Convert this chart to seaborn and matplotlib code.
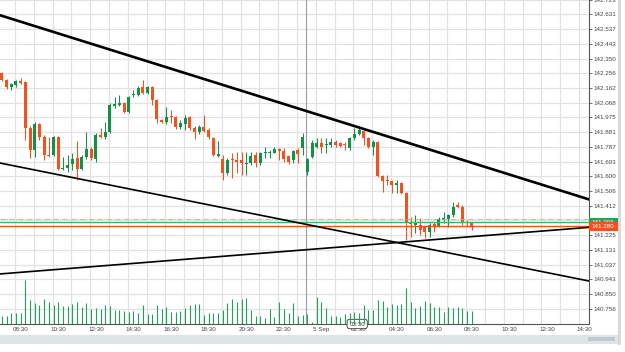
import matplotlib.pyplot as plt
import matplotlib.patches as mpatches
import matplotlib.transforms as mtransforms
import numpy as np
import pandas as pd
import seaborn as sns

# 15 minute candles, 07:30 (4 Sep) .. 08:30 (5 Sep)
opens = [142.257, 142.212, 142.168, 142.181, 142.206, 142.200, 141.907, 141.767, 141.932, 141.849,
         141.735, 141.735, 141.849, 141.646, 141.652, 141.677, 141.716, 141.646, 141.722, 141.773,
         141.709, 141.862, 141.849, 141.881, 142.047, 142.053, 142.066, 142.009, 142.117, 142.117,
         142.168, 142.130, 142.168, 142.085, 141.958, 141.945, 141.983, 141.977, 141.913, 141.932,
         141.977, 141.907, 141.881, 141.913, 141.894, 141.843, 141.728, 141.709, 141.620, 141.709,
         141.703, 141.703, 141.677, 141.684, 141.735, 141.684, 141.747, 141.747, 141.747, 141.773,
         141.760, 141.728, 141.703, 141.767, 141.779, 141.626, 141.722, 141.786, 141.811, 141.798,
         141.798, 141.817, 141.811, 141.805, 141.779, 141.843, 141.868, 141.888, 141.843, 141.786,
         141.817, 141.601, 141.575, 141.569, 141.544, 141.556, 141.493, 141.308, 141.289, 141.289,
         141.276, 141.244, 141.295, 141.282, 141.321, 141.327, 141.352, 141.416, 141.403, 141.308,
         141.302]
closes = [142.212, 142.168, 142.187, 142.206, 142.193, 141.907, 141.767, 141.932, 141.849, 141.735,
          141.728, 141.849, 141.646, 141.652, 141.671, 141.709, 141.646, 141.722, 141.773, 141.716,
          141.862, 141.849, 141.881, 142.053, 142.060, 142.066, 142.009, 142.104, 142.123, 142.161,
          142.130, 142.168, 142.085, 141.964, 141.945, 141.977, 141.977, 141.913, 141.939, 141.970,
          141.907, 141.881, 141.913, 141.888, 141.849, 141.735, 141.741, 141.620, 141.703, 141.703,
          141.690, 141.684, 141.684, 141.728, 141.684, 141.747, 141.754, 141.754, 141.773, 141.760,
          141.709, 141.690, 141.760, 141.741, 141.849, 141.709, 141.811, 141.811, 141.786, 141.805,
          141.817, 141.798, 141.792, 141.798, 141.843, 141.868, 141.894, 141.843, 141.786, 141.817,
          141.601, 141.569, 141.569, 141.544, 141.556, 141.493, 141.308, 141.295, 141.308, 141.257,
          141.244, 141.289, 141.282, 141.327, 141.333, 141.352, 141.403, 141.403, 141.308, 141.302,
          141.280]
highs = [142.263, 142.219, 142.193, 142.212, 142.225, 142.206, 141.919, 141.945, 141.939, 141.862,
         141.849, 141.856, 141.856, 141.722, 141.735, 141.747, 141.824, 141.735, 141.881, 141.786,
         141.875, 141.907, 141.945, 142.066, 142.104, 142.117, 142.072, 142.110, 142.149, 142.174,
         142.212, 142.174, 142.174, 142.091, 141.964, 142.040, 142.021, 141.983, 141.958, 141.989,
         141.983, 141.919, 141.926, 141.989, 141.907, 141.849, 141.824, 141.735, 141.716, 141.747,
         141.754, 141.754, 141.754, 141.754, 141.754, 141.754, 141.786, 141.767, 141.786, 141.779,
         141.779, 141.735, 141.767, 141.779, 141.875, 141.716, 141.830, 141.843, 141.843, 141.843,
         141.843, 141.830, 141.817, 141.817, 141.849, 141.907, 141.913, 141.894, 141.849, 141.830,
         141.824, 141.607, 141.607, 141.575, 141.575, 141.563, 141.499, 141.340, 141.352, 141.333,
         141.289, 141.302, 141.308, 141.340, 141.372, 141.359, 141.435, 141.435, 141.416, 141.321,
         141.308]
lows = [142.206, 142.155, 142.149, 142.168, 142.187, 141.830, 141.716, 141.722, 141.830, 141.703,
        141.722, 141.728, 141.639, 141.639, 141.626, 141.639, 141.575, 141.639, 141.709, 141.703,
        141.690, 141.843, 141.837, 141.875, 142.034, 142.047, 142.002, 142.002, 142.104, 142.110,
        142.123, 142.123, 142.053, 141.939, 141.939, 141.932, 141.939, 141.900, 141.900, 141.894,
        141.894, 141.837, 141.868, 141.881, 141.837, 141.728, 141.722, 141.575, 141.607, 141.588,
        141.620, 141.607, 141.607, 141.671, 141.658, 141.671, 141.716, 141.716, 141.747, 141.703,
        141.690, 141.677, 141.684, 141.684, 141.735, 141.607, 141.716, 141.779, 141.747, 141.747,
        141.786, 141.786, 141.786, 141.767, 141.767, 141.830, 141.862, 141.798, 141.779, 141.735,
        141.595, 141.499, 141.544, 141.493, 141.493, 141.486, 141.193, 141.212, 141.238, 141.225,
        141.206, 141.212, 141.244, 141.276, 141.302, 141.276, 141.340, 141.397, 141.289, 141.276,
        141.257]
volumes = [230, 230, 320, 320, 320, 1320, 730, 620, 580, 750,
           670, 580, 650, 550, 550, 600, 670, 520, 630, 450,
           480, 450, 570, 550, 420, 420, 380, 350, 400, 320,
           580, 300, 300, 580, 450, 520, 370, 370, 380, 490,
           560, 590, 590, 270, 320, 320, 340, 430, 640, 740,
           650, 750, 780, 430, 230, 230, 180, 450, 200, 670,
           450, 320, 630, 230, 270, 300, 70, 820, 670, 470,
           230, 230, 200, 300, 330, 370, 330, 580, 430, 430,
           730, 700, 500, 600, 580, 600, 1070, 670, 480, 550,
           680, 630, 520, 520, 370, 520, 480, 500, 480, 400,
           380]

# hand drawn trend lines (hours from 08:30, price)
upper_t = [-1.1, 30.23]
upper_p = [142.626, 141.452]
lower_t = [-1.1, 30.23]
lower_p = [141.684, 140.932]
rising_t = [-1.1, 30.23]
rising_p = [140.977, 141.274]

ask_price = 141.325
bid_price = 141.306
last_price = 141.280
cursor_hour = 15.18
cursor_label = '03:30'

x_labels = ['08:30', '10:30', '12:30', '14:30', '16:30', '18:30', '20:30', '22:30',
            '5 Sep', '02:30', '04:30', '06:30', '08:30', '10:30', '12:30', '14:30']
y_labels = ['142.723', '142.631', '142.537', '142.443', '142.350', '142.256', '142.162',
            '142.068', '141.975', '141.881', '141.787', '141.693', '141.600', '141.506',
            '141.412', '141.319', '141.225', '141.131', '141.037', '140.943', '140.850', '140.756']

times = pd.date_range('2024-09-04 07:30', periods=len(opens), freq='15min')
df = pd.DataFrame({'time': times, 'open': opens, 'close': closes,
                   'high': highs, 'low': lows, 'volume': volumes})
df['h'] = (df['time'] - pd.Timestamp('2024-09-04 08:30')) / pd.Timedelta(hours=1)

green = '#15904a'
red = '#f4511e'

sns.set_style('whitegrid')
plt.rcParams['font.family'] = ['Liberation Sans', 'DejaVu Sans']

fig = plt.figure(figsize=(6.25, 3.52), dpi=100)
ax = fig.add_axes([0, 28 / 352, 589 / 625, 324 / 352])
ax.set_xlim(-1.1, 30.23)
ax.set_ylim(140.658, 142.722)

# volume on its own scale at the bottom
ax2 = ax.twinx()
ax2.set_ylim(0, 9720)
ax2.vlines(df['h'], 0, df['volume'], color='#22a05e', lw=0.8)
ax2.axis('off')

# candles
colors = np.where(df['close'] >= df['open'], green, red)
ax.vlines(df['h'], df['low'], df['high'], color=colors, lw=0.75, zorder=3)
ax.bar(df['h'], (df['close'] - df['open']).abs(), bottom=np.minimum(df['open'], df['close']),
       width=0.16, color=colors, lw=0, zorder=4)

# trend lines
sns.lineplot(x=upper_t, y=upper_p, ax=ax, color='black', lw=1.9, zorder=6)
sns.lineplot(x=lower_t, y=lower_p, ax=ax, color='black', lw=1.2, zorder=6)
sns.lineplot(x=rising_t, y=rising_p, ax=ax, color='black', lw=1.2, zorder=6)

# price lines
ax.axhline(ask_price, color='#f29583', lw=0.6, ls='-.', zorder=5)
ax.axhline(bid_price, color='#3cb371', lw=1.0, zorder=5)
ax.axhline(last_price, color=red, lw=1.0, zorder=5)
ax.axvline(cursor_hour, color='#9c9c9c', lw=0.8, zorder=2.6)

# axes styling
ax.set_xticks(np.arange(0, 31, 2))
ax.set_xticklabels(x_labels)
ax.set_xticks(np.arange(-0.3, 30.3, 1), minor=True)
ax.grid(False)
ax.grid(which='minor', axis='x', color='#e2e2e2', lw=0.9)
ax.yaxis.tick_right()
ax.set_yticks([float(v) for v in y_labels])
ax.set_yticklabels(y_labels)
ax.grid(which='major', axis='y', color='#e2e2e2', lw=0.9)
ax.tick_params(axis='x', which='both', length=0, labelsize=4.5, labelcolor='#444444', pad=2)
ax.tick_params(axis='y', length=2, width=0.6, color='#555555', labelsize=4.5,
               labelcolor='#444444', pad=1.5)
for side in ['left', 'top']:
    ax.spines[side].set_visible(False)
for side in ['right', 'bottom']:
    ax.spines[side].set_visible(True)
    ax.spines[side].set_color('#555555')
    ax.spines[side].set_linewidth(0.8)

# price boxes on the right scale (last price box sits on top of the bid box)
trans = mtransforms.blended_transform_factory(ax.transAxes, ax.transData)
half = 0.0265
ax.add_patch(mpatches.Rectangle((1.0, bid_price - half), 30 / 589, 2 * half, transform=trans,
                                fc='#2e9e57', ec='none', clip_on=False, zorder=10))
bid_txt = ax.text(1.004, bid_price, f'{bid_price:.3f}', transform=trans, fontsize=4.5,
                  color='white', va='center', ha='left', zorder=11)
bid_clip = mpatches.Rectangle((1.0, last_price + half), 30 / 589, bid_price + half - last_price - half,
                              transform=trans, fc='none', ec='none')
bid_txt.set_clip_path(bid_clip)
bid_txt.set_clip_on(True)
ax.add_patch(mpatches.Rectangle((1.0, last_price - half), 30 / 589, 2 * half, transform=trans,
                                fc=red, ec='none', clip_on=False, zorder=12))
ax.text(1.004, last_price, f'{last_price:.3f}', transform=trans, fontsize=4.5, color='white',
        va='center', ha='left', clip_on=False, zorder=13)

# cursor time box
ctrans = mtransforms.blended_transform_factory(ax.transData, ax.transAxes)
ax.text(17.9, 0.0, cursor_label, transform=ctrans, fontsize=4.5, color='#333333',
        ha='center', va='center', clip_on=False, zorder=14,
        bbox=dict(boxstyle='round,pad=0.35', fc='white', ec='#333333', lw=0.6))

# scroll bars
fig.patches.append(mpatches.Rectangle((0, 8 / 352), 620 / 625, 9 / 352, transform=fig.transFigure,
                                      fc='#dfe4e7', ec='none'))
fig.patches.append(mpatches.Rectangle((588 / 625, 11 / 352), 27 / 625, 4 / 352,
                                      transform=fig.transFigure, fc='#c3c8cc', ec='none'))
fig.patches.append(mpatches.Rectangle((618 / 625, 7 / 352), 3 / 625, 345 / 352,
                                      transform=fig.transFigure, fc='#d9d9d9', ec='none'))

fig.savefig('out.png', dpi=100)
